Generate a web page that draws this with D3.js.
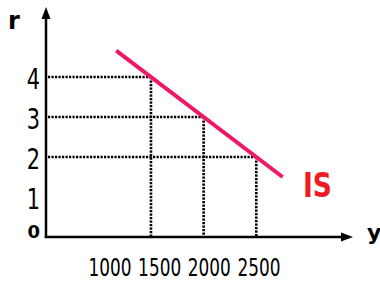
<!DOCTYPE html>
<html><head><meta charset="utf-8">
<script src="https://cdn.jsdelivr.net/npm/d3@7"></script>
<style>
html,body{margin:0;padding:0;background:#fff;}
svg{display:block;}
.nar{font-family:"DejaVu Sans","Liberation Sans",sans-serif;}
</style></head>
<body>
<svg id="c" width="380" height="282"></svg>
<script>
// data
const rTicks = [0, 1, 2, 3, 4];
const yLabels = ["1000", "1500", "2000", "2500"];
const points = [ {y: 1500, r: 4}, {y: 2000, r: 3}, {y: 2500, r: 2} ];
const isIncome = [1170, 2750];
const isRate = [4.66, 1.5];
const curveName = "IS";

const svg = d3.select("#c");
const x = d3.scaleLinear().domain([1000, 2500]).range([98.3, 256.3]);
const y = d3.scaleLinear().domain([0, 4]).range([237, 77]);
const xAxisX = 46;
const x0 = y(0);

// dotted guides
function dotted(x1, y1, x2, y2) {
  svg.append("line").attr("x1", x1).attr("x2", x2).attr("y1", y1).attr("y2", y2)
    .attr("stroke", "#000").attr("stroke-width", 2.6).attr("stroke-dasharray", "2.2,1.3");
}
points.forEach(p => {
  dotted(xAxisX + 2, y(p.r), x(p.y), y(p.r));
  dotted(x(p.y), y(p.r), x(p.y), x0);
});

// axes
svg.append("line").attr("x1", xAxisX).attr("x2", xAxisX).attr("y1", x0 + 1).attr("y2", 16)
  .attr("stroke", "#000").attr("stroke-width", 2.5);
svg.append("path").attr("d", `M${xAxisX},7 L${xAxisX - 4.5},19 L${xAxisX + 4.5},19 Z`).attr("fill", "#000");
svg.append("line").attr("x1", xAxisX - 1.2).attr("x2", 344).attr("y1", x0).attr("y2", x0)
  .attr("stroke", "#000").attr("stroke-width", 2.5);
svg.append("path").attr("d", `M353,${x0} L341,${x0 - 4.5} L341,${x0 + 4.5} Z`).attr("fill", "#000");

// IS line
const lineData = isIncome.map((v, i) => [v, isRate[i]]);
svg.append("path").datum(lineData)
  .attr("d", d3.line().x(d => x(d[0])).y(d => y(d[1])))
  .attr("stroke", "#f0176a").attr("stroke-width", 4).attr("fill", "none");

// y tick labels
svg.selectAll("text.rt").data(rTicks).enter().append("text")
  .attr("class", "nar")
  .attr("transform", d => `translate(40,${d === 0 ? y(d) - 6 : y(d) + 2}) scale(${d === 0 ? 1 : 0.72},1)`)
  .attr("text-anchor", "end").attr("dominant-baseline", "central")
  .attr("font-size", d => d === 0 ? 18 : 29)
  .attr("font-weight", d => d === 0 ? "bold" : "normal")
  .text(d => d);

// x labels
const xl = d3.scalePoint().domain(yLabels).range([110, 259]);
svg.selectAll("text.yl").data(yLabels).enter().append("text")
  .attr("class", "nar")
  .attr("transform", d => `translate(${xl(d)},276) scale(0.77,1.1)`)
  .attr("text-anchor", "middle")
  .attr("font-size", 22)
  .text(d => d);

// axis names
svg.append("text").attr("class", "nar").attr("x", 8).attr("y", 29).attr("font-size", 24).attr("font-weight", "bold")
  .text("r");
svg.append("text").attr("class", "nar").attr("x", 367).attr("y", 240).attr("font-size", 22).attr("font-weight", "bold")
  .text("y");

// IS label
svg.append("text").attr("class", "nar")
  .attr("transform", "translate(303,197) scale(0.78,1)")
  .attr("font-size", 34)
  .attr("font-weight", "bold").attr("fill", "#ee1b24").text(curveName);
</script>
</body></html>
